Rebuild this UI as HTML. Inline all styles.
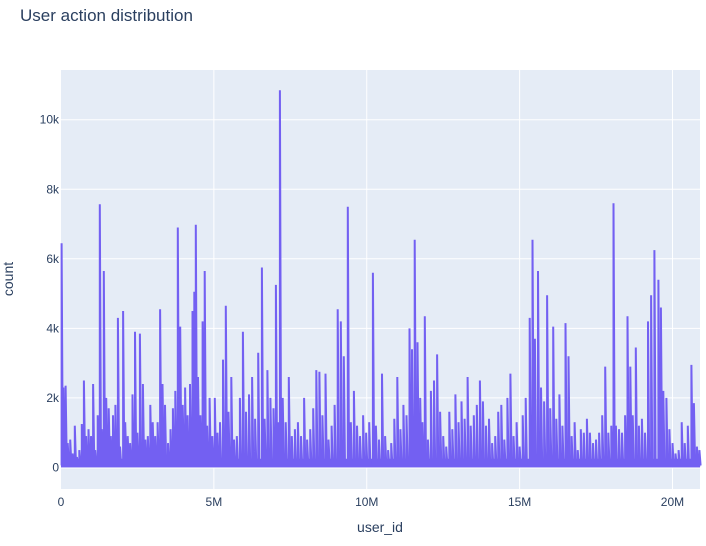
<!DOCTYPE html>
<html><head><meta charset="utf-8"><style>
body{margin:0;background:#fff;font-family:"Liberation Sans",Arial,sans-serif}
svg text{font-family:"Liberation Sans",Arial,sans-serif}
</style></head><body>
<svg id="chart" width="706" height="541" xmlns="http://www.w3.org/2000/svg">
<rect width="706" height="541" fill="#fff"/>
<text x="20" y="21" font-size="17" fill="#2a3f5f">User action distribution</text>
<rect x="61" y="70" width="639" height="419" fill="#e5ecf6"/>
<g id="grid"></g>
<g id="series"></g>
<g id="ticks"></g>
<text x="380" y="532" font-size="14" fill="#2a3f5f" text-anchor="middle">user_id</text>
<text transform="translate(13,279) rotate(-90)" font-size="14" fill="#2a3f5f" text-anchor="middle">count</text>
</svg>
<script>
const xTicks=[0,5,10,15,20];
const xTickLabels=["0","5M","10M","15M","20M"];
const yTicks=[0,2000,4000,6000,8000,10000];
const yTickLabels=["0","2k","4k","6k","8k","10k"];
const userIdsM=[
0.02,0.08,0.15,0.22,0.3,0.38,0.45,0.52,0.6,0.68,
0.75,0.82,0.9,0.98,1.05,1.12,1.2,1.27,1.33,1.4,
1.48,1.56,1.63,1.7,1.78,1.86,1.93,2.03,2.1,2.18,
2.26,2.34,2.42,2.5,2.58,2.68,2.76,2.84,2.92,3.0,
3.08,3.16,3.24,3.32,3.4,3.5,3.58,3.66,3.74,3.82,
3.9,3.98,4.06,4.14,4.22,4.3,4.36,4.41,4.48,4.56,
4.63,4.7,4.78,4.86,4.95,5.03,5.12,5.2,5.3,5.39,
5.48,5.57,5.66,5.75,5.85,5.95,6.05,6.15,6.25,6.35,
6.45,6.57,6.66,6.75,6.85,6.95,7.03,7.1,7.16,7.25,
7.35,7.45,7.55,7.65,7.75,7.85,7.95,8.05,8.15,8.25,
8.35,8.45,8.55,8.65,8.75,8.85,8.95,9.05,9.15,9.25,
9.38,9.48,9.58,9.68,9.78,9.88,9.98,10.08,10.2,10.3,
10.4,10.5,10.6,10.7,10.8,10.9,11.0,11.1,11.2,11.3,
11.4,11.48,11.57,11.66,11.75,11.82,11.9,12.0,12.1,12.2,
12.3,12.4,12.5,12.6,12.7,12.8,12.9,13.0,13.1,13.2,
13.3,13.4,13.5,13.6,13.7,13.8,13.9,14.0,14.1,14.2,
14.3,14.4,14.5,14.6,14.7,14.8,14.9,15.0,15.1,15.2,
15.33,15.42,15.5,15.6,15.7,15.8,15.9,16.0,16.1,16.2,
16.3,16.4,16.5,16.6,16.7,16.8,16.9,17.0,17.1,17.2,
17.3,17.4,17.5,17.6,17.7,17.8,17.9,18.0,18.07,18.15,
18.25,18.35,18.45,18.53,18.62,18.7,18.8,18.9,19.0,19.1,
19.2,19.3,19.41,19.54,19.62,19.7,19.8,19.9,20.0,20.1,
20.2,20.3,20.4,20.5,20.62,20.7,20.8,20.88];
const peakCounts=[
6450,2300,2350,700,800,400,1200,300,500,1250,
2500,900,1100,900,2400,500,1500,7570,1100,5650,
2000,1700,900,1500,1800,4300,600,4500,1300,900,
700,2100,3900,1000,3850,2400,800,900,1800,1300,
900,1300,4550,2400,1800,700,1100,1700,2200,6900,
4050,1800,2300,1500,2400,4500,5050,6980,2600,1500,
4200,5650,1200,2000,900,2000,1000,1300,3100,4650,
1600,2600,800,900,2000,3900,1600,2100,2600,1400,
3300,5750,1400,2800,2000,1700,5250,1300,10850,2000,
1300,2600,900,1100,1300,900,2000,800,1100,1700,
2800,2750,1500,2700,800,1200,1800,4550,4200,3200,
7500,1300,2200,1200,900,1500,1000,1300,5600,1200,
800,2700,900,500,700,1400,2600,1100,1800,1500,
4000,3400,6550,3600,2000,1300,4350,800,2200,2500,
3250,1600,900,600,1600,1100,2100,1300,1900,1400,
2600,1200,1500,1800,2500,1900,1200,1400,700,900,
1600,1800,800,2000,2700,900,1300,600,1500,2000,
4300,6550,3700,5650,2300,1900,4950,1700,4050,1400,
2100,1200,4150,3200,900,1300,500,1100,1000,1400,
1000,700,800,1000,1500,2900,1000,1200,7600,1200,
1100,1000,1500,4350,2900,1500,3450,1200,1400,1000,
4200,4950,6250,5400,4600,2200,2000,1100,700,400,
500,1300,700,1200,2950,1850,600,500];
const floorCount=60;
const X0=61,X1=700,Y0=70,Y1=489,xMax=20.9,yMin=-620,yMax=11430;
const xs=v=>X0+(v/xMax)*(X1-X0);
const ys=v=>Y1-(v-yMin)/(yMax-yMin)*(Y1-Y0);
const NS="http://www.w3.org/2000/svg";
const LINE="#7360f2";
const grid=document.getElementById('grid'),ticks=document.getElementById('ticks'),series=document.getElementById('series');
xTicks.forEach((t,i)=>{
  const l=document.createElementNS(NS,'line');
  
  
  l.setAttribute('x1',xs(t));l.setAttribute('x2',xs(t));l.setAttribute('y1',Y0);l.setAttribute('y2',Y1);
  l.setAttribute('stroke','#fff');l.setAttribute('stroke-width',t===0?0:1);
  grid.appendChild(l);
  const tx=document.createElementNS(NS,'text');
  
  
  tx.setAttribute('x',xs(t));tx.setAttribute('y',Y1+17);tx.setAttribute('text-anchor','middle');
  tx.setAttribute('font-size','12');tx.setAttribute('fill','#2a3f5f');tx.textContent=xTickLabels[i];
  ticks.appendChild(tx);
});
yTicks.forEach((t,i)=>{
  const l=document.createElementNS(NS,'line');
  
  
  l.setAttribute('x1',X0);l.setAttribute('x2',X1);l.setAttribute('y1',ys(t));l.setAttribute('y2',ys(t));
  l.setAttribute('stroke','#fff');l.setAttribute('stroke-width',t===0?2:1);
  grid.appendChild(l);
  const tx=document.createElementNS(NS,'text');
  
  
  tx.setAttribute('x',X0-2);tx.setAttribute('y',ys(t)+4);tx.setAttribute('text-anchor','end');
  tx.setAttribute('font-size','12');tx.setAttribute('fill','#2a3f5f');tx.textContent=yTickLabels[i];
  ticks.appendChild(tx);
});
const base=document.createElementNS(NS,'rect');


base.setAttribute('x',X0);base.setAttribute('y',ys(250));base.setAttribute('width',X1-X0);base.setAttribute('height',ys(0)-ys(250));
base.setAttribute('fill',LINE);
series.appendChild(base);
let d='';
const n=Math.min(userIdsM.length,peakCounts.length);
for(let i=0;i<n;i++){
  const x=xs(userIdsM[i]).toFixed(1);
  d+=(i?'L':'M')+x+','+ys(floorCount).toFixed(1)+'L'+x+','+ys(peakCounts[i]).toFixed(1)+'L'+(+x+1.2).toFixed(1)+','+ys(floorCount).toFixed(1);
}
const p=document.createElementNS(NS,'path');


p.setAttribute('d',d);p.setAttribute('fill','none');p.setAttribute('stroke',LINE);p.setAttribute('stroke-width','2');
series.appendChild(p);
</script>
</body></html>
